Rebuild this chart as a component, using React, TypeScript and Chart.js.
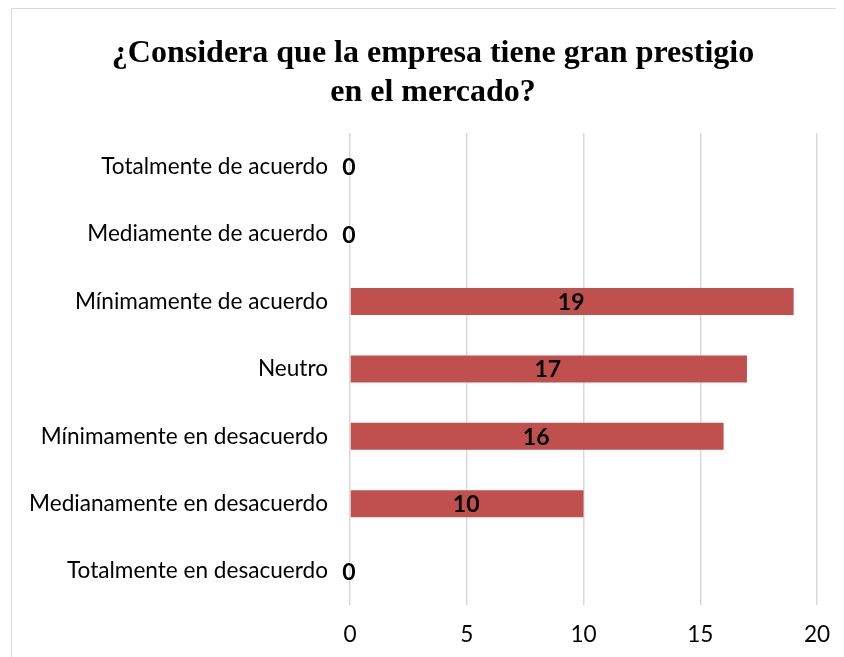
import React, { useEffect, useRef } from "react";
import { Chart, registerables } from "chart.js";

Chart.register(...registerables);

const categories = [
  "Totalmente de acuerdo",
  "Mediamente de acuerdo",
  "Mínimamente de acuerdo",
  "Neutro",
  "Mínimamente en desacuerdo",
  "Medianamente en desacuerdo",
  "Totalmente en desacuerdo",
];
const values = [0, 0, 19, 17, 16, 10, 0];
const titleLines = ["¿Considera que la empresa tiene gran prestigio", "en el mercado?"];
const xMin = 0;
const xMax = 20;
const xStep = 5;

const labelFont = "Lato, 'Open Sans', sans-serif";
const titleFont = "bold 32px 'Liberation Serif', 'Times New Roman', serif";

const dataLabelPlugin = {
  id: "dataLabels",
  afterDatasetsDraw(chart: any) {
    const ctx = chart.ctx;
    const meta = chart.getDatasetMeta(0);
    ctx.save();
    ctx.font = `bold 23px ${labelFont}`;
    ctx.fillStyle = "#000000";
    ctx.textAlign = "center";
    ctx.textBaseline = "middle";
    meta.data.forEach((bar: any, i: number) => {
      const v = chart.data.datasets[0].data[i];
      const x = (bar.x + bar.base) / 2;
      ctx.fillText(String(v), x - 1, bar.y + 1);
    });
    ctx.restore();
  },
};

// Title drawn centred on the whole (bordered) chart box
const titlePlugin = {
  id: "boxTitle",
  afterDraw(chart: any) {
    const ctx = chart.ctx;
    ctx.save();
    ctx.font = titleFont;
    ctx.fillStyle = "#000000";
    ctx.textAlign = "center";
    ctx.textBaseline = "middle";
    const cx = chart.width / 2;
    titleLines.forEach((line, i) => {
      ctx.fillText(line, cx, 45 + i * 38.4);
    });
    ctx.restore();
  },
};

export default function App() {
  const ref = useRef<HTMLCanvasElement | null>(null);
  useEffect(() => {
    if (!ref.current) return;
    const chart = new Chart(ref.current, {
      type: "bar",
      data: {
        labels: categories,
        datasets: [
          {
            data: values,
            backgroundColor: "#C0504D",
            categoryPercentage: 1,
            barPercentage: 0.4,
          },
        ],
      },
      options: {
        indexAxis: "y",
        animation: false,
        responsive: false,
        maintainAspectRatio: false,
        layout: { padding: { left: 0, right: 37, top: 124, bottom: 0 } },
        plugins: {
          legend: { display: false },
          tooltip: { enabled: false },
          title: { display: false },
        },
        scales: {
          x: {
            min: xMin,
            max: xMax,
            ticks: {
              stepSize: xStep,
              color: "#000000",
              font: { family: labelFont, size: 22.6 },
              padding: 16,
            },
            grid: { color: "#d9d9d9", lineWidth: 1.5, drawTicks: false },
            border: { display: false },
          },
          y: {
            ticks: {
              color: "#000000",
              font: { family: labelFont, size: 22.6 },
              padding: 22,
            },
            grid: { display: false, drawTicks: false },
            border: { display: false },
            afterFit(scale: any) {
              scale.width = 338;
            },
          },
        },
      },
      plugins: [dataLabelPlugin, titlePlugin],
    });
    return () => chart.destroy();
  }, []);

  return (
    <div style={{ position: "relative", width: 836, height: 649, overflow: "hidden" }}>
      <div
        style={{
          position: "absolute",
          left: 3,
          top: 0,
          width: 844,
          height: 720,
          border: "1px solid #d9d9d9",
          boxSizing: "border-box",
          background: "#fff",
        }}
      >
        <canvas ref={ref} width={842} height={655} style={{ display: "block" }} />
      </div>
    </div>
  );
}
